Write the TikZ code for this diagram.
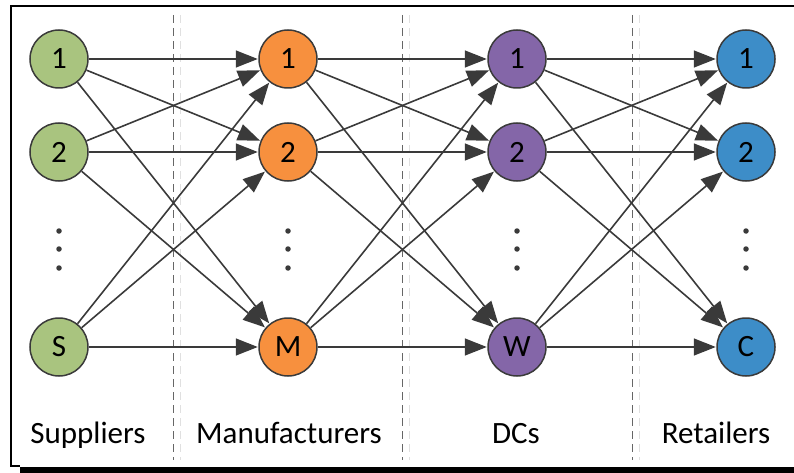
\documentclass[tikz,border=0pt]{standalone}
\usepackage{fontspec}
\setmainfont{Carlito}
\usetikzlibrary{arrows.meta}
\definecolor{edgec}{HTML}{3A3A3A}
\definecolor{supc}{HTML}{A9C47F}
\definecolor{manc}{HTML}{F7903E}
\definecolor{dcc}{HTML}{8466A8}
\definecolor{retc}{HTML}{3D8DC8}
\tikzset{
  x=1pt, y=-1pt,
  netnode/.style={circle, draw=edgec, line width=1.5pt, minimum size=58pt, inner sep=0pt, font=\fontsize{31}{36}\selectfont},
  sup/.style={netnode, fill=supc},
  man/.style={netnode, fill=manc},
  dc/.style={netnode, fill=dcc},
  ret/.style={netnode, fill=retc},
  flow/.style={draw=edgec, line width=1.6pt, -{Triangle[length=22pt,width=17pt]}, shorten >=0.5pt},
  divider/.style={draw=black!60, line width=1pt, dash pattern=on 8pt off 5pt},
  dividershade/.style={draw=black!12, line width=1pt, dash pattern=on 8pt off 5pt},
  tier/.style={font=\fontsize{31}{36}\selectfont, anchor=base},
  ell/.style={circle, fill=edgec, inner sep=0pt, minimum size=5.5pt}
}
\begin{document}
\begin{tikzpicture}
\useasboundingbox (0,0) rectangle (794,473);
% outer frame with a heavy bottom edge
\draw[line width=2pt] (794,6) -- (11,6) -- (11,466) -- (20,466);
\fill (20,467) rectangle (794,473);

% column dividers
\foreach \xx in {173,402,632} {
  \draw[dividershade] (\xx+7,15) -- (\xx+7,460);
  \draw[divider] (\xx,15) -- (\xx,460);
}

% nodes
\node[sup] (s1) at (59,59) {1};
\node[sup] (s2) at (59,152) {2};
\node[sup] (sS) at (59,347) {S};
\node[man] (m1) at (288,59) {1};
\node[man] (m2) at (288,152) {2};
\node[man] (mM) at (288,347) {M};
\node[dc] (d1) at (517,59) {1};
\node[dc] (d2) at (517,152) {2};
\node[dc] (dW) at (517,347) {W};
\node[ret] (r1) at (746,59) {1};
\node[ret] (r2) at (746,152) {2};
\node[ret] (rC) at (746,347) {C};

% ellipsis dots
\foreach \cx/\nm in {59/s,288/m,517/d,746/r} {
  \node[ell] (\nm e1) at (\cx,231) {};
  \node[ell] (\nm e2) at (\cx,249) {};
  \node[ell] (\nm e3) at (\cx,268) {};
}

% flows between consecutive tiers
\foreach \a in {s1,s2,sS} \foreach \b in {m1,m2,mM} \draw[flow] (\a) -- (\b);
\foreach \a in {m1,m2,mM} \foreach \b in {d1,d2,dW} \draw[flow] (\a) -- (\b);
\foreach \a in {d1,d2,dW} \foreach \b in {r1,r2,rC} \draw[flow] (\a) -- (\b);

% tier labels
\node[tier] (lsup) at (88,443) {Suppliers};
\node[tier] (lman) at (289,443) {Manufacturers};
\node[tier] (ldc) at (516,443) {DCs};
\node[tier] (lret) at (716,443) {Retailers};
\end{tikzpicture}
\end{document}
